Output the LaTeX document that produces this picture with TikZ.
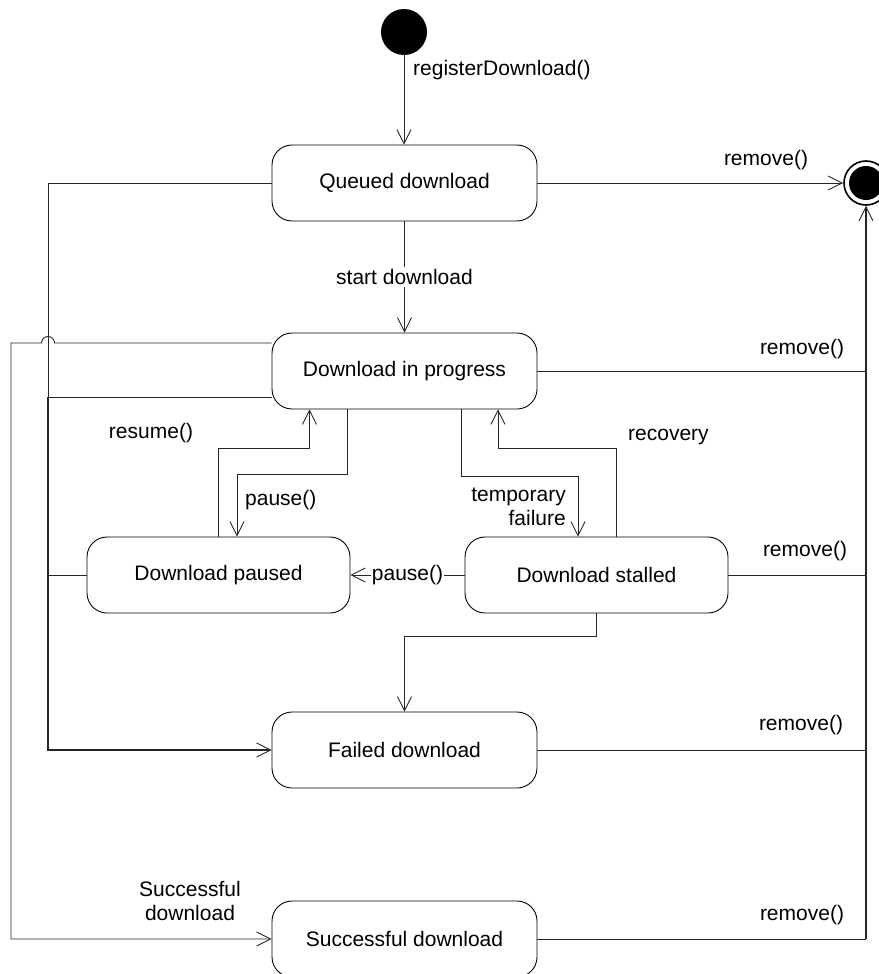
\documentclass[tikz,border=0pt]{standalone}
\usepackage{fontspec}
\setmainfont{Liberation Sans}
\usetikzlibrary{arrows.meta,calc}
\begin{document}
\begin{tikzpicture}[x=1pt,y=-1pt,
  every node/.style={font=\fontsize{21}{24}\selectfont},
  state/.style={draw, rounded corners=20pt, minimum width=265pt, minimum height=76pt, inner sep=0pt, line width=0.9pt},
  smallstate/.style={state, minimum width=263pt},
  conn/.style={line width=0.9pt, draw=black!85},
  arr/.style={conn, -{Straight Barb[length=14pt,width=14pt,line width=0.9pt]}},
  lbl/.style={inner sep=0pt}
]
\useasboundingbox (0,0) rectangle (878,974);

% states
\node[circle, fill, minimum size=46pt, inner sep=0pt] (init) at (404,32) {};
\node[circle, draw, line width=1.6pt, minimum size=44pt, inner sep=0pt] (final) at (866,183) {};
\fill (final.center) circle (17pt);
\node[state] (queued) at (404.5,183) {Queued download};
\node[state] (progress) at (404.5,371) {Download in progress};
\node[smallstate] (paused) at (218.5,575) {Download paused};
\node[smallstate] (stalled) at (596.5,575) {Download stalled};
\node[state] (failed) at (404.5,750) {Failed download};
\node[state] (success) at (404.5,939) {Successful download};

% helper coordinates
\coordinate (L) at (48,750);
\coordinate (L2) at (48,397);
\coordinate (LL) at (11,343);
\coordinate (rs) at (309.5,448);
\coordinate (ps) at (347,474);
\coordinate (ps2) at (237,474);
\coordinate (tf) at (461,476);
\coordinate (tf2) at (578,476);
\coordinate (rc) at (616,448);
\coordinate (rc2) at (498,448);

% initial
\draw[arr] (init.south) -- (init.south |- queued.north);
\node[lbl, anchor=west] (lreg) at (413,70) {registerDownload()};

% queued
\draw[arr] (queued.east) -- (final.west);
\node[lbl] (lrem1) at (766,160) {remove()};
\draw[arr] (queued.south) -- node[lbl, fill=white, inner sep=2pt] (lstart) {start download} (progress.north);
\draw[conn] (queued.west) -| (L2);
\draw[arr, line width=1.4pt] (L2) -- (L) -- (failed.west);

% trunk to final
\draw[arr, line width=1.6pt] (success.east -| final.south) -- (final.south);

% progress
\draw[conn] (progress.east) -- (progress.east -| final.south);
\node[lbl] (lrem2) at (802,349) {remove()};
\draw[conn] ([yshift=-26pt]progress.west) -- (L2);
\draw[arr] ([yshift=28pt]progress.west) -- (54.5,343) arc[start angle=0,end angle=180,radius=6.5pt] -- (LL) |- (success.west);
\node[lbl, align=center] (lsucc) at (190,901) {Successful\\download};

% paused / resume
\draw[arr] (paused.north) |- (rs) -- (rs |- progress.south);
\node[lbl] (lres) at (151,433) {resume()};
\draw[arr] (ps |- progress.south) -- (ps) -- (ps2) -- (ps2 |- paused.north);
\node[lbl, anchor=west] (lpause1) at (245,500) {pause()};
\draw[conn] (paused.west) -- (paused.west -| L);

% stalled
\draw[arr] (tf |- progress.south) -- (tf) -- (tf2) -- (tf2 |- stalled.north);
\node[lbl, align=right, anchor=east] (ltemp) at (566,507) {temporary\\failure};
\draw[arr] (rc |- stalled.north) -- (rc) -- (rc2) -- (rc2 |- progress.south);
\node[lbl, anchor=west] (lrec) at (628,437) {recovery};
\draw[arr] (stalled.west) -- node[lbl, fill=white, inner sep=1pt] (lpause2) {pause()} (paused.east);
\draw[conn] (stalled.east) -- (stalled.east -| final.south);
\node[lbl] (lrem3) at (805,551) {remove()};
\draw[arr] (stalled.south) -- ++(0,23) -| (failed.north);

% failed
\draw[conn] (failed.east) -- (failed.east -| final.south);
\node[lbl] (lrem4) at (801,725) {remove()};

% success
\draw[conn] (success.east) -- (success.east -| final.south);
\node[lbl] (lrem5) at (802,915) {remove()};
\end{tikzpicture}
\end{document}
